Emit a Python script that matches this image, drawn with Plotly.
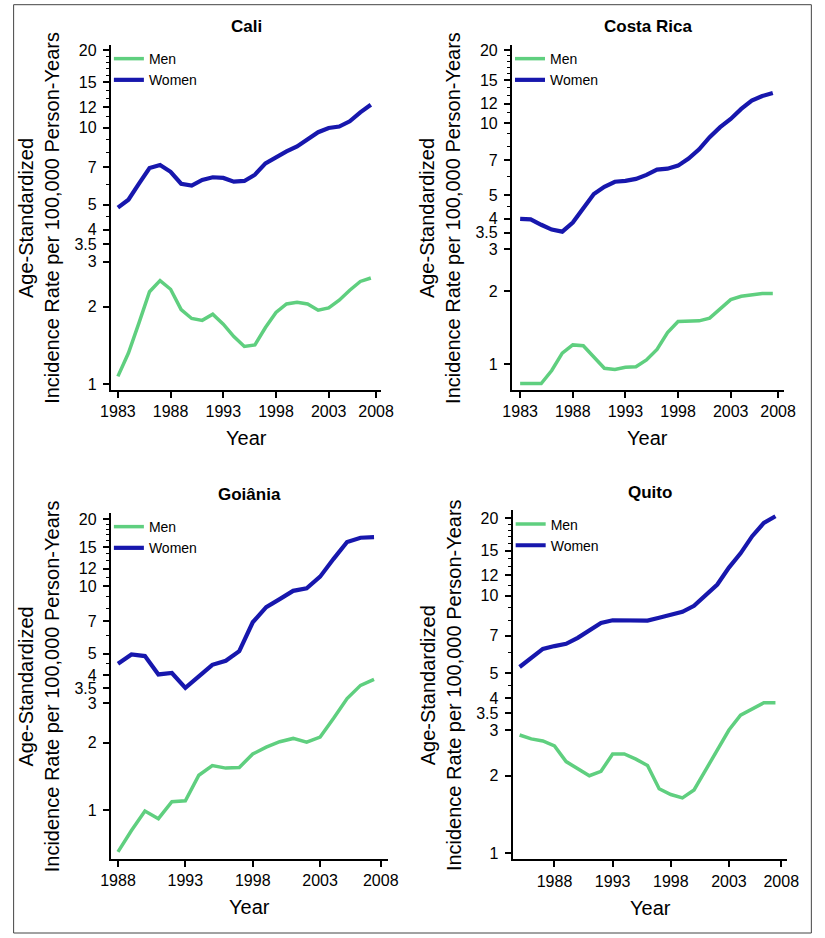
import plotly.graph_objects as go

# ---------------- data ----------------
years_cali = list(range(1983, 2008))
cali_men = [1.07, 1.32, 1.73, 2.29, 2.53, 2.34, 1.95, 1.80, 1.77, 1.87, 1.71, 1.53, 1.40,
            1.42, 1.66, 1.90, 2.05, 2.08, 2.05, 1.94, 1.98, 2.12, 2.32, 2.51, 2.59]
cali_women = [4.87, 5.23, 6.04, 6.95, 7.14, 6.72, 6.04, 5.94, 6.25, 6.40, 6.36, 6.15, 6.19,
              6.55, 7.25, 7.67, 8.07, 8.44, 8.98, 9.59, 9.96, 10.09, 10.58, 11.47, 12.28]

years_cr = list(range(1983, 2008))
cr_men = [0.83, 0.83, 0.83, 0.94, 1.11, 1.20, 1.19, 1.07, 0.96, 0.95, 0.97, 0.975, 1.04,
          1.15, 1.35, 1.50, 1.50, 1.51, 1.55, 1.69, 1.85, 1.91, 1.94, 1.96, 1.96]
cr_women = [4.00, 3.98, 3.78, 3.61, 3.54, 3.86, 4.43, 5.07, 5.43, 5.70, 5.75, 5.86, 6.09,
            6.40, 6.46, 6.65, 7.11, 7.77, 8.73, 9.60, 10.39, 11.43, 12.37, 12.92, 13.30]

years_goi = list(range(1988, 2008))
goi_men = [0.65, 0.81, 0.99, 0.915, 1.09, 1.10, 1.43, 1.58, 1.54, 1.55, 1.78, 1.91, 2.02,
           2.09, 2.01, 2.12, 2.57, 3.15, 3.61, 3.84]
goi_women = [4.51, 4.96, 4.88, 4.04, 4.10, 3.52, 3.96, 4.46, 4.65, 5.13, 6.91, 8.07, 8.77,
             9.55, 9.81, 11.05, 13.28, 15.8, 16.5, 16.6]

years_quito = list(range(1985, 2008))
quito_men = [2.88, 2.78, 2.73, 2.61, 2.27, 2.14, 2.00, 2.08, 2.43, 2.43, 2.32, 2.19, 1.78,
             1.69, 1.64, 1.76, 2.11, 2.52, 3.01, 3.44, 3.63, 3.84, 3.84]
quito_women = [5.29, 5.73, 6.22, 6.38, 6.51, 6.87, 7.31, 7.85, 8.04, 8.04, 8.00, 8.02, 8.22,
               8.47, 8.67, 9.15, 10.06, 11.07, 12.88, 14.63, 17.06, 19.2, 20.4]

panel_titles = ["Cali", "Costa Rica", "Goiânia", "Quito"]
series_names = ["Men", "Women"]

y_tickvals = [1, 2, 3, 3.5, 4, 5, 7, 10, 12, 15, 20]
y_ticktext = ["1", "2", "3", "3.5", "4", "5", "7", "10", "12", "15", "20"]
y_minorvals = [4.5, 6, 8, 9, 11, 13, 14, 16, 17, 18, 19]

x_tick_labels_a = ["1983", "1988", "1993", "1998", "2003", "2008"]
x_tick_vals_a = [1983, 1988, 1993, 1998, 2003, 2007.5]
x_tick_labels_b = ["1988", "1993", "1998", "2003", "2008"]
x_tick_vals_b = [1988, 1993, 1998, 2003, 2007.5]

y_title = "Age-Standardized<br>Incidence Rate per 100,000 Person-Years"
x_title = "Year"

# ---------------- styling ----------------
W, H = 825, 938
GREEN = "#5fcf7f"
BLUE = "#1717ad"
FONT = "Liberation Sans, Arial, Helvetica, sans-serif"
TICK_SIZE = 16

# plot areas in pixels: (left, right, top, bottom)
areas = [
    (102.7, 381.0, 42.3, 389.3),
    (515.3, 794.7, 42.3, 389.3),
    (102.7, 387.3, 513.3, 861.3),
    (516.0, 798.7, 510.7, 862.0),
]
x_ranges = [[1982.33, 2008.0], [1982.22, 2008.02], [1987.47, 2008.0], [1984.4, 2008.03]]
y_ranges = [[-0.023, 1.322], [-0.107, 1.323], [-0.218, 1.328], [-0.0245, 1.332]]
x_ticks = [(x_tick_vals_a, x_tick_labels_a), (x_tick_vals_a, x_tick_labels_a),
           (x_tick_vals_b, x_tick_labels_b), (x_tick_vals_b, x_tick_labels_b)]

data = [
    (years_cali, cali_men, cali_women),
    (years_cr, cr_men, cr_women),
    (years_goi, goi_men, goi_women),
    (years_quito, quito_men, quito_women),
]


def px_x(p):
    return p / W


def px_y(p):
    return 1 - p / H


fig = go.Figure()
layout = dict(
    width=W, height=H,
    margin=dict(l=0, r=0, t=0, b=0),
    paper_bgcolor="white", plot_bgcolor="white",
    font=dict(family=FONT, color="black"),
    showlegend=True,
)
annotations = []

for i, (yrs, men, women) in enumerate(data):
    k = "" if i == 0 else str(i + 1)
    leg = "legend" if i == 0 else f"legend{i + 1}"
    fig.add_trace(go.Scatter(x=yrs, y=men, mode="lines", name=series_names[0],
                             line=dict(color=GREEN, width=3.5), xaxis="x" + k, yaxis="y" + k,
                             legend=leg))
    fig.add_trace(go.Scatter(x=yrs, y=women, mode="lines", name=series_names[1],
                             line=dict(color=BLUE, width=4.2), xaxis="x" + k, yaxis="y" + k,
                             legend=leg))
    l, r, t, b = areas[i]
    tv, tt = x_ticks[i]
    layout["xaxis" + k] = dict(
        domain=[px_x(l), px_x(r)], anchor="y" + k, range=x_ranges[i],
        tickmode="array", tickvals=tv, ticktext=tt,
        showline=True, linecolor="black", linewidth=2,
        ticks="outside", ticklen=6, tickwidth=1.5, tickcolor="black",
        showgrid=False, zeroline=False, tickfont=dict(size=TICK_SIZE, family=FONT),
    )
    layout["yaxis" + k] = dict(
        domain=[px_y(b), px_y(t)], anchor="x" + k, type="log", range=y_ranges[i],
        tickmode="array", tickvals=y_tickvals, ticktext=y_ticktext,
        showline=True, linecolor="black", linewidth=2,
        ticks="outside", ticklen=6, tickwidth=1.5, tickcolor="black",
        ticklabelstandoff=3,
        minor=dict(tickvals=y_minorvals, ticks="outside", ticklen=3, tickwidth=1,
                   tickcolor="black", showgrid=False),
        showgrid=False, zeroline=False, tickfont=dict(size=TICK_SIZE, family=FONT),
    )
    layout[leg] = dict(
        x=px_x(l - 2), y=px_y(t - 2), xanchor="left", yanchor="top",
        bgcolor="rgba(0,0,0,0)", font=dict(size=14, family=FONT),
        tracegroupgap=0,
    )
    cx = (l + r) / 2
    # panel title
    annotations.append(dict(text=f"<b>{panel_titles[i]}</b>", x=px_x(cx), y=px_y(t - 18.5),
                            xref="paper", yref="paper", showarrow=False,
                            font=dict(size=17, family=FONT), xanchor="center", yanchor="middle"))
    # x title
    annotations.append(dict(text=x_title, x=px_x(cx), y=px_y(b + 49),
                            xref="paper", yref="paper", showarrow=False,
                            font=dict(size=20, family=FONT), xanchor="center", yanchor="middle"))
    # y title
    annotations.append(dict(text=y_title, x=px_x(l - 73.5), y=px_y((t + b) / 2),
                            xref="paper", yref="paper", showarrow=False, textangle=-90,
                            font=dict(size=20, family=FONT), xanchor="center", yanchor="middle"))

layout["annotations"] = annotations
layout["shapes"] = [dict(type="rect", xref="paper", yref="paper",
                         x0=px_x(2.7), x1=px_x(823.3), y0=px_y(936), y1=px_y(1.7),
                         line=dict(color="#444444", width=1))]
fig.update_layout(**layout)
fig.write_html("out.html", config={"displayModeBar": False},
               post_script="document.body.style.margin='0';")
